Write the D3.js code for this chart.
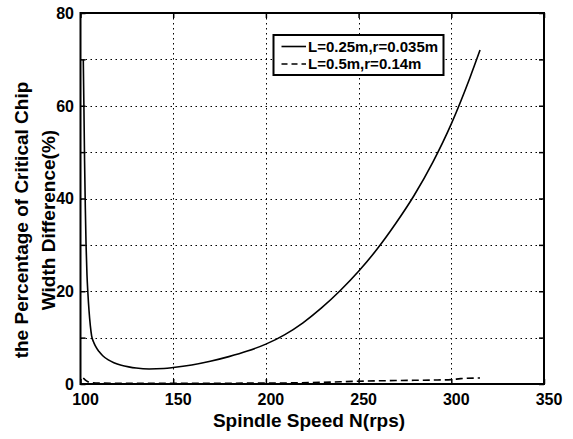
<!DOCTYPE html>
<html>
<head>
<meta charset="utf-8">
<script src="https://cdn.jsdelivr.net/npm/d3@7/dist/d3.min.js"></script>
<style>
  html, body { margin: 0; padding: 0; background: #fff; }
  svg { display: block; font-family: "Liberation Sans", Arial, sans-serif; }
</style>
</head>
<body>
<svg id="chart" width="573" height="439"></svg>
<script>
// ---- data ----
const seriesNames = ["L=0.25m,r=0.035m", "L=0.5m,r=0.14m"];
const solidN = [101.5,101.8,102.2,102.6,103,103.5,104,104.6,105.3,106,107,108,110,112,115,118,122,126,130,137,145,150,160,170,180,190,200,210,220,230,240,250,260,270,280,290,300,310,315.5];
const solidV = [70,61,48,38,30,23.5,19.5,15.8,12.6,10.4,9.1,8.2,7.0,6.1,5.2,4.6,4.05,3.7,3.45,3.25,3.35,3.55,4.1,4.9,5.9,7.1,8.6,10.6,13.2,16.4,20.1,24.3,29.1,34.6,40.7,47.8,56.1,66,72];
const dashN = [101.5,102.5,104,106,110,130,150,200,230,250,270,290,300,305,315.5];
const dashV = [1.3,0.9,0.5,0.3,0.2,0.15,0.15,0.2,0.35,0.6,0.75,0.85,0.95,1.15,1.3];
const xTicks = [100,150,200,250,300,350];
const yTicks = [0,10,20,30,40,50,60,70,80];
const yTickLabels = [0,20,40,60,80];
const xTitle = "Spindle Speed N(rps)";
const yTitle = ["the Percentage of Critical Chip", "Width Difference(%)"];

// ---- layout ----
const svg = d3.select("#chart");
const L = 80.5, R = 544, T = 13, B = 384;
const x = d3.scaleLinear().domain([100, 350]).range([L, R]);
const y = d3.scaleLinear().domain([0, 80]).range([B, T]);

// grid
const grid = svg.append("g").attr("stroke", "#000").attr("stroke-width", 1).attr("stroke-dasharray", "1.5,3.5");
grid.selectAll("line.gx").data(xTicks.slice(1, -1)).join("line")
  .attr("x1", d => Math.round(x(d)) + 0.5).attr("x2", d => Math.round(x(d)) + 0.5)
  .attr("y1", T).attr("y2", B);
grid.selectAll("line.gy").data(yTicks.slice(1, -1)).join("line")
  .attr("y1", d => Math.round(y(d)) + 0.5).attr("y2", d => Math.round(y(d)) + 0.5)
  .attr("x1", L).attr("x2", R);

// axes (ticks inward on all sides)
const tl = 5;
const axB = svg.append("g").attr("transform", `translate(0,${B})`)
  .call(d3.axisBottom(x).tickValues(xTicks).tickSize(-tl).tickFormat(""));
const axT = svg.append("g").attr("transform", `translate(0,${T})`)
  .call(d3.axisTop(x).tickValues(xTicks).tickSize(-tl).tickFormat(""));
const axL = svg.append("g").attr("transform", `translate(${L},0)`)
  .call(d3.axisLeft(y).tickValues(yTicks).tickSize(-tl).tickFormat(""));
const axR = svg.append("g").attr("transform", `translate(${R},0)`)
  .call(d3.axisRight(y).tickValues(yTicks).tickSize(-tl).tickFormat(""));
[axB, axT, axL, axR].forEach(a => {
  a.select(".domain").remove();
  a.selectAll(".tick line").attr("stroke", "#000").attr("stroke-width", 1.5);
});
svg.append("rect").attr("x", L).attr("y", T).attr("width", R - L).attr("height", B - T)
  .attr("fill", "none").attr("stroke", "#000").attr("stroke-width", 2);

// tick labels
svg.append("g").selectAll("text").data(xTicks).join("text")
  .attr("x", d => x(d) + 5).attr("y", 405)
  .attr("text-anchor", "middle").attr("font-size", 16).attr("font-weight", "bold")
  .text(d => d);
svg.append("g").selectAll("text").data(yTickLabels).join("text")
  .attr("x", 74).attr("y", d => y(d)).attr("dy", "0.36em")
  .attr("text-anchor", "end").attr("font-size", 16).attr("font-weight", "bold")
  .text(d => d);

// titles
svg.append("text").attr("x", 309).attr("y", 427).attr("text-anchor", "middle")
  .attr("font-size", 19).attr("font-weight", "bold").text(xTitle);
const yt = svg.append("text").attr("transform", "translate(0,220) rotate(-90)")
  .attr("text-anchor", "middle").attr("font-size", 19).attr("font-weight", "bold");
yt.append("tspan").attr("x", 0).attr("y", 28).text(yTitle[0]);
yt.append("tspan").attr("x", 0).attr("y", 55).text(yTitle[1]);

// curves
const line = d3.line().x(d => x(d[0])).y(d => y(d[1])).curve(d3.curveMonotoneX);
svg.append("path").datum(solidN.map((n, i) => [n, solidV[i]]))
  .attr("d", line).attr("fill", "none").attr("stroke", "#000").attr("stroke-width", 1.6);
svg.append("path").datum(dashN.map((n, i) => [n, dashV[i]]))
  .attr("d", line).attr("fill", "none").attr("stroke", "#000").attr("stroke-width", 1.6)
  .attr("stroke-dasharray", "7,4");

// legend
const lg = svg.append("g");
lg.append("rect").attr("x", 273.5).attr("y", 35).attr("width", 170).attr("height", 40)
  .attr("fill", "#fff").attr("stroke", "#000").attr("stroke-width", 2);
const rows = [{y: 46.5, dash: null}, {y: 64, dash: "6,4"}];
rows.forEach((r, i) => {
  lg.append("line").attr("x1", 281.5).attr("x2", 306).attr("y1", r.y).attr("y2", r.y)
    .attr("stroke", "#000").attr("stroke-width", 1.6).attr("stroke-dasharray", r.dash);
  lg.append("text").attr("x", 308).attr("y", r.y).attr("dy", "0.36em")
    .attr("font-size", 15).attr("font-weight", "bold").text(seriesNames[i]);
});
</script>
</body>
</html>
